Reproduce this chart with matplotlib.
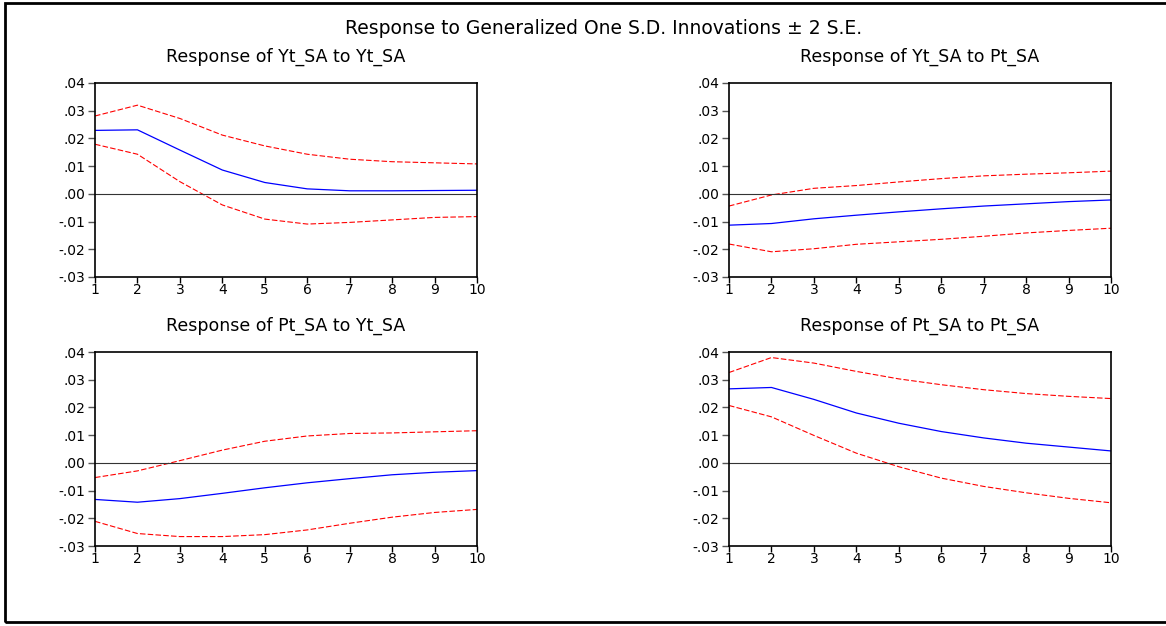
import matplotlib
matplotlib.use("Agg")
import matplotlib.pyplot as plt
from matplotlib.patches import Rectangle

plt.rcParams['font.family'] = ['DejaVu Sans']

# horizon (periods)
periods = [1, 2, 3, 4, 5, 6, 7, 8, 9, 10]

# Response of Yt_SA to Yt_SA
yy_resp = [0.0229, 0.0231, 0.0158, 0.0086, 0.0041, 0.0018, 0.0011, 0.0011, 0.0012, 0.0013]
yy_upper = [0.0281, 0.0320, 0.0272, 0.0212, 0.0173, 0.0143, 0.0125, 0.0116, 0.0112, 0.0108]
yy_lower = [0.0179, 0.0143, 0.0044, -0.0040, -0.0091, -0.0109, -0.0103, -0.0094, -0.0085, -0.0082]

# Response of Yt_SA to Pt_SA
yp_resp = [-0.0113, -0.0107, -0.0090, -0.0077, -0.0065, -0.0054, -0.0044, -0.0036, -0.0028, -0.0022]
yp_upper = [-0.0044, -0.0004, 0.0020, 0.0030, 0.0043, 0.0055, 0.0065, 0.0071, 0.0076, 0.0082]
yp_lower = [-0.0181, -0.0209, -0.0198, -0.0182, -0.0173, -0.0164, -0.0153, -0.0141, -0.0132, -0.0124]

# Response of Pt_SA to Yt_SA
py_resp = [-0.0132, -0.0142, -0.0129, -0.0110, -0.0090, -0.0072, -0.0057, -0.0043, -0.0034, -0.0028]
py_upper = [-0.0053, -0.0029, 0.0008, 0.0046, 0.0078, 0.0097, 0.0106, 0.0108, 0.0112, 0.0116]
py_lower = [-0.0211, -0.0255, -0.0266, -0.0266, -0.0259, -0.0242, -0.0218, -0.0196, -0.0179, -0.0168]

# Response of Pt_SA to Pt_SA
pp_resp = [0.0267, 0.0272, 0.0229, 0.0180, 0.0143, 0.0113, 0.0090, 0.0071, 0.0057, 0.0043]
pp_upper = [0.0326, 0.0380, 0.0360, 0.0330, 0.0303, 0.0282, 0.0264, 0.0250, 0.0240, 0.0232]
pp_lower = [0.0207, 0.0166, 0.0099, 0.0035, -0.0014, -0.0055, -0.0085, -0.0108, -0.0128, -0.0144]

yticks = [-0.03, -0.02, -0.01, 0.00, 0.01, 0.02, 0.03, 0.04]
ytick_labels = ['-.03', '-.02', '-.01', '.00', '.01', '.02', '.03', '.04']

W, H = 1166, 626
fig = plt.figure(figsize=(W / 100, H / 100), dpi=100)

# outer frame
fig.patches.append(Rectangle((5 / W, 4 / H), 1.2, (H - 7) / H, transform=fig.transFigure,
                             fill=False, edgecolor='black', linewidth=2))

fig.text(604 / W, 1 - 28 / H, 'Response to Generalized One S.D. Innovations \u00b1 2 S.E.',
         ha='center', va='center', fontsize=13.5)


def panel(x0, y0, title, resp, upper, lower):
    ax = fig.add_axes([x0 / W, 1 - (y0 + 194) / H, 382 / W, 194 / H])
    ax.plot(periods, resp, color='blue', linewidth=0.9)
    ax.plot(periods, upper, color='red', linewidth=0.8, linestyle=(0, (5, 2)))
    ax.plot(periods, lower, color='red', linewidth=0.8, linestyle=(0, (5, 2)))
    ax.axhline(0, color='#333333', linewidth=0.8)
    ax.set_xlim(1, 10)
    ax.set_ylim(-0.03, 0.04)
    ax.set_xticks(periods)
    ax.set_yticks(yticks)
    ax.set_yticklabels(ytick_labels)
    ax.tick_params(axis='both', labelsize=10, direction='out', length=5, width=1, color='#555555', pad=2)
    ax.tick_params(axis='x', length=4, color='black', pad=0)
    for s in ax.spines.values():
        s.set_linewidth(1.2)
    ax.set_title(title, fontsize=12.5, pad=15)
    return ax


panel(95, 83, 'Response of Yt_SA to Yt_SA', yy_resp, yy_upper, yy_lower)
panel(729, 83, 'Response of Yt_SA to Pt_SA', yp_resp, yp_upper, yp_lower)
panel(95, 352, 'Response of Pt_SA to Yt_SA', py_resp, py_upper, py_lower)
panel(729, 352, 'Response of Pt_SA to Pt_SA', pp_resp, pp_upper, pp_lower)

fig.savefig('out.png', dpi=100)
